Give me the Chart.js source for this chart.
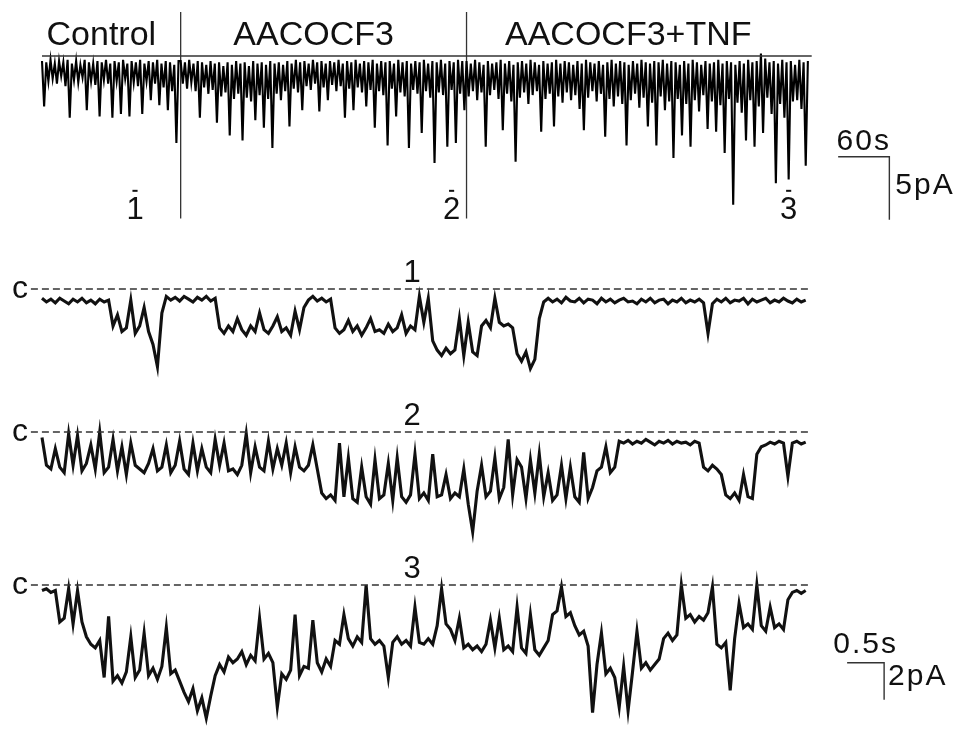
<!DOCTYPE html>
<html>
<head>
<meta charset="utf-8">
<title>AACOCF3 / TNF channel recordings</title>
<script src="https://cdn.jsdelivr.net/npm/chart.js@4.4.1/dist/chart.umd.min.js"></script>
<style>
  html, body { margin: 0; padding: 0; background: #fff; }
  #wrap { position: relative; width: 969px; height: 736px; }
</style>
</head>
<body>
<div id="wrap"><canvas id="traces" width="969" height="736"></canvas></div>
<script>
// ---- data (current in pA) ----
const conditions = ['Control', 'AACOCF3', 'AACOCF3+TNF'];

// slow (compressed) recording, one sample every 2.5 s
const slowDt = 2.5;
const controlTrace = [
  -0.4,-4.0,-0.5,-2.0,-0.3,-1.8,-0.6,-2.2,-0.4,-1.6,
  -0.5,-2.4,-0.3,-4.9,-0.6,-1.9,-0.4,-2.1,-0.7,-1.7,
  -0.3,-4.3,-0.5,-2.0,-0.6,-2.3,-0.4,-4.8,-0.5,-1.9,
  -0.3,-2.2,-0.6,-4.9,-0.4,-2.0,-0.5,-4.6,-0.3,-1.8,
  -0.6,-4.8,-0.4,-2.1,-0.5,-2.4,-0.3,-4.6,-0.6,-2.0,
  -0.4,-3.5,-0.5,-2.2,-0.3,-3.9,-0.6,-2.5,-0.4,-4.3,
  -0.5,-2.8,-0.7,-6.9,-0.4
];
const aacoTrace = [
  -0.4,-2.2,-0.5,-2.6,-0.3,-2.1,-0.6,-2.8,-0.4,-4.9,
  -0.5,-2.5,-0.7,-3.0,-0.4,-2.7,-0.6,-5.3,-0.5,-3.2,
  -0.8,-2.9,-0.5,-6.3,-0.7,-3.4,-0.4,-3.0,-0.6,-6.7,
  -0.5,-3.3,-0.8,-3.6,-0.4,-5.1,-0.6,-3.1,-0.5,-5.7,
  -0.7,-3.4,-0.4,-7.3,-0.6,-3.0,-0.5,-3.5,-0.7,-2.8,
  -0.4,-5.6,-0.6,-2.6,-0.3,-2.9,-0.5,-4.3,-0.4,-2.4,
  -0.6,-2.7,-0.3,-2.2,-0.5,-4.4,-0.4,-2.5,-0.6,-3.5,
  -0.4,-2.3,-0.5,-2.8,-0.3,-2.4,-0.6,-4.9,-0.4,-2.6,
  -0.5,-4.3,-0.3,-2.5,-0.6,-2.9,-0.4,-4.0,-0.5,-2.7,
  -0.3,-5.7,-0.6,-2.8,-0.4,-3.1,-0.5,-7.1,-0.4,-2.6,
  -0.6,-4.8,-0.3,-2.9,-0.5,-3.2,-0.4,-7.3,-0.6,-2.7,
  -0.4,-3.0,-0.5,-6.1,-0.3,-2.8,-0.6,-3.3,-0.4,-8.5,
  -0.5,-2.9,-0.3,-3.1,-0.6,-7.2,-0.4,-2.7,-0.5,-6.9,
  -0.3,-3.0,-0.4,-4.3
];
const tnfTrace = [
  -0.4,-3.2,-0.6,-2.8,-0.3,-3.5,-0.5,-2.9,-0.7,-7.2,
  -0.4,-3.1,-0.6,-2.7,-0.5,-3.4,-0.3,-5.9,-0.6,-3.0,
  -0.4,-3.6,-0.7,-8.4,-0.5,-3.3,-0.4,-2.9,-0.6,-3.8,
  -0.3,-3.1,-0.5,-2.8,-0.7,-6.0,-0.4,-3.4,-0.6,-3.0,
  -0.5,-5.6,-0.3,-3.2,-0.6,-3.7,-0.4,-2.9,-0.5,-3.5,
  -0.7,-3.1,-0.4,-4.2,-0.6,-5.9,-0.3,-3.3,-0.5,-2.8,
  -0.6,-3.6,-0.4,-3.0,-0.7,-6.4,-0.5,-3.4,-0.3,-4.0,
  -0.6,-3.2,-0.4,-3.8,-0.5,-7.1,-0.7,-3.5,-0.4,-3.0,
  -0.6,-4.1,-0.3,-3.3,-0.5,-5.6,-0.6,-3.7,-0.4,-7.1,
  -0.5,-3.2,-0.3,-4.3,-0.6,-3.6,-0.4,-8.1,-0.5,-3.4,
  -0.7,-6.3,-0.4,-3.8,-0.6,-7.2,-0.3,-3.5,-0.5,-4.4,
  -0.7,-3.1,-0.4,-5.8,-0.6,-3.6,-0.5,-6.0,-0.3,-3.9,
  -0.6,-7.7,-0.4,-3.4,-0.5,-11.8,-0.7,-3.7,-0.4,-4.5,
  -0.6,-6.7,-0.3,-3.5,-0.5,-7.2,-0.4,-4.0,0.2,-6.1,
  -0.2,-3.3,-0.5,-4.6,-0.4,-10.1,-0.6,-3.8,-0.3,-4.9,
  -0.5,-9.8,-0.4,-3.6,-0.7,-3.5,-0.3,-4.2,-0.5,-8.7,
  -0.4
];

// expanded sweeps, one sample every 0.06 s, 0 = closed level "c"
const sweepLabels = ['1', '2', '3'];
const sweepTimes = [109, 480, 875];   // s on the slow trace
const fastDt = 0.06;
const sweep1 = [
  -0.5,-0.7,-0.55,-0.75,-0.5,-0.65,-0.8,-0.55,-0.7,-0.5,-0.75,-0.6,-0.8,-0.55,-0.7,-0.6,
  -2.0,-1.4,-2.3,-2.1,-0.6,-2.4,-2.0,-1.0,-2.3,-3.0,-4.2,-1.3,
  -0.4,-0.6,-0.45,-0.65,-0.4,-0.55,-0.7,-0.45,-0.6,-0.4,-0.65,-0.5,
  -2.1,-2.4,-2.0,-2.3,-1.6,-2.2,-2.5,-2.0,-2.3,-1.3,-2.2,-2.4,-2.0,-1.5,-2.3,-2.1,-2.5,-1.2,-2.2,-1.0,
  -0.6,-0.4,-0.65,-0.5,-0.7,-0.55,
  -2.1,-2.4,-2.2,-1.7,-2.3,-2.0,-2.5,-2.1,-1.6,-2.3,-2.2,-2.4,-1.9,-2.3,-2.1,-1.4,-2.4,-2.0,-2.2,-0.4,-1.8,
  -0.5,-2.8,-3.3,-3.6,-3.2,-3.5,-3.3,-1.6,-3.6,-1.8,-3.4,-3.6,
  -2.0,-1.7,-2.1,-0.5,-1.8,-2.0,-1.9,-2.1,
  -3.5,-3.9,-3.4,-4.3,-3.8,
  -1.6,-0.7,
  -0.5,-0.7,-0.55,-0.75,-0.45,-0.65,-0.7,-0.5,-0.75,-0.55,-0.6,-0.8,-0.5,-0.7,-0.55,-0.75,-0.6,-0.5,
  -0.7,-0.65,-0.8,-0.55,-0.7,-0.5,-0.75,-0.6,-0.55,-0.8,-0.6,-0.7,-0.5,-0.75,-0.6,-0.7,-0.55,-0.75,
  -2.4,-0.8,
  -0.55,-0.7,-0.5,-0.75,-0.6,-0.65,-0.5,-0.8,-0.55,-0.7,-0.6,-0.5,-0.75,-0.6,-0.7,-0.5,-0.65,-0.75,-0.55,-0.7,-0.6
];
const sweep2 = [
  -0.3,-1.8,-2.0,-0.9,-1.9,-2.2,-0.1,-1.8,-0.2,-2.1,-1.7,-0.7,-2.0,0.0,-2.2,-1.9,-0.4,-2.1,-0.8,-2.3,
  -0.6,-1.8,-2.0,-2.2,-1.7,-0.9,-2.1,-1.9,-0.7,-2.2,-1.8,-0.5,-2.0,-2.3,-0.6,-2.1,-0.9,-1.9,-2.2,-0.4,
  -1.8,-0.6,-2.1,-2.0,-2.3,-1.8,-0.1,-2.2,-0.8,-1.9,-2.1,-0.5,-2.0,-0.9,-1.8,-0.6,-2.2,-0.8,-1.9,-2.1,
  -1.8,-0.7,-2.0,
  -3.3,-3.6,-3.4,-3.7,-0.6,-3.5,-1.4,-3.6,-3.8,-1.9,-3.5,-3.9,-1.5,-3.6,-3.4,-1.7,-3.7,-1.4,-3.5,-3.8,
  -3.4,-1.2,-3.6,-3.3,-3.7,-1.2,-3.5,-3.4,-2.3,-3.6,-3.3,-3.5,-2.0,-3.9,-5.4,-3.2,-1.8,-3.5,-3.2,-1.4,
  -3.6,-3.0,-0.4,-3.4,-1.5,-1.9,-3.6,-1.5,-3.3,-1.2,-3.5,-2.2,-3.7,-3.4,-1.8,-3.6,-1.9,-3.5,-3.8,-1.1,
  -3.6,-3.0,
  -2.1,-1.9,-0.8,-2.2,-1.9,
  -0.5,-0.6,-0.45,-0.65,-0.5,-0.6,-0.4,-0.55,-0.7,-0.5,-0.6,-0.45,-0.65,-0.5,-0.6,-0.55,-0.7,-0.5,-0.6,
  -1.9,-2.1,-1.8,-2.0,-2.3,
  -3.4,-3.6,-3.3,-3.7,-2.3,-3.5,-3.6,
  -1.2,-0.8,-0.7,-0.55,-0.65,-0.5,-0.6,-2.4,-0.6,-0.5,-0.65,-0.55
];
const sweep3 = [
  -0.3,-0.2,-0.4,-0.3,
  -2.0,-1.8,-0.2,-2.1,-0.3,-2.0,
  -2.8,-3.2,-3.4,-3.0,
  -5.0,-1.7,-5.2,-4.9,-5.3,
  -4.7,-2.8,-5.0,-4.6,-2.6,-4.9,-4.5,-5.1,
  -4.4,-2.3,-4.8,-4.6,
  -5.2,-5.8,-6.3,-5.6,-6.8,-6.1,-7.2,
  -6.0,-4.9,-4.3,-4.7,-3.9,-4.2,
  -4.0,-3.6,-4.3,-3.8,-4.1,-1.8,-4.0,-3.7,
  -4.2,-6.6,-4.8,-5.1,-4.6,-1.6,-4.9,-4.4,
  -4.5,-1.9,-4.2,-4.7,-4.0,-4.4,
  -3.0,-3.2,-1.6,-2.9,-3.3,-2.8,-3.1,0.0,
  -2.9,-3.2,-3.0,-3.3,-5.0,-3.1,-2.8,-3.2,
  -3.0,-3.3,-1.2,-3.1,-3.2,
  -2.9,-3.2,-2.2,-0.2,
  -2.1,-2.4,
  -3.0,-1.8,-3.4,-3.2,-3.5,-3.3,-3.6,-3.2,-1.9,-3.4,-1.8,-3.5,-3.3,-3.6,-1.2,-3.4,-3.7,-1.6,-3.5,-3.8,-3.4,-3.0,
  -1.6,-1.4,-0.1,-1.7,-1.5,
  -2.2,-2.7,-2.5,-3.3,
  -6.9,-4.3,-2.6,-4.8,-4.5,-5.0,-6.6,-4.4,-6.8,-4.7,
  -2.5,-4.5,-4.2,-4.6,-4.3,-4.0,
  -2.9,-2.6,-3.0,-2.7,
  0.0,-1.8,-1.6,-2.0,-1.7,-1.9,-1.5,-0.1,
  -3.2,-3.4,-3.1,-5.7,
  -2.9,-1.0,-2.3,-2.1,-2.4,0.0,-2.2,-2.5,-1.2,-2.3,-2.1,-2.4,-0.8,
  -0.4,-0.3,-0.45,-0.3
];
const sweeps = [sweep1, sweep2, sweep3];

// calibration bars
const slowBarTime = 60, slowBarAmp = 5;     // s, pA
const fastBarTime = 0.5, fastBarAmp = 2;    // s, pA

// ---- layout (pixels) ----
const W = 969, H = 736;
const plotLeft = 42;
const slowPxPerS = 768 / 900, slowPxPerPA = 12.6;
const fastPxPerS = 74, fastPxPerPA = 18.5;
const slowZeroPx = 56;
const closedPx = [289, 432, 585];

function xAxis(pxPerUnit) {
  return { type: 'linear', display: false, bounds: 'data',
    min: -plotLeft / pxPerUnit, max: (W - plotLeft) / pxPerUnit };
}
function yAxis(zeroPx, pxPerUnit) {
  return { type: 'linear', display: false, bounds: 'data',
    min: -(H - zeroPx) / pxPerUnit, max: zeroPx / pxPerUnit };
}

const tCtrl = controlTrace.length * slowDt;
const tAaco = tCtrl + aacoTrace.length * slowDt;
const slowTrace = controlTrace.concat(aacoTrace, tnfTrace);
const tEnd = slowTrace.length * slowDt;
const markLevel = -10.7;     // pA, level of the little sweep marks
const sweepEnd = 10.38;

const toPts = (arr, dt) => arr.map((v, i) => ({ x: i * dt, y: v }));

function line(data, xAxisID, yAxisID, extra) {
  return Object.assign({
    type: 'line', data, xAxisID, yAxisID,
    borderColor: '#111', borderWidth: 1, pointRadius: 0,
    fill: false, tension: 0, borderJoinStyle: 'miter'
  }, extra || {});
}

const datasets = [];
// slow trace, its zero line and the solution-change markers
datasets.push(line([{ x: 0, y: 0 }, { x: tEnd + 2, y: 0 }], 'xSlow', 'ySlow', { borderColor: '#333', borderWidth: 1.4 }));
datasets.push(line(toPts(slowTrace, slowDt), 'xSlow', 'ySlow', { borderColor: '#000', borderWidth: 2.1 }));
[tCtrl, tAaco].forEach(t => {
  datasets.push(line([{ x: t, y: 3.5 }, { x: t, y: -12.9 }], 'xSlow', 'ySlow', { borderColor: '#333', borderWidth: 1.3 }));
});
sweepTimes.forEach(t => {
  datasets.push(line([{ x: t - 3, y: markLevel }, { x: t + 3, y: markLevel }], 'xSlow', 'ySlow', { borderWidth: 2 }));
});
// slow calibration bar
const slowBarT0 = 933, slowBarY0 = -8.0;
datasets.push(line([
  { x: slowBarT0, y: slowBarY0 },
  { x: slowBarT0 + slowBarTime, y: slowBarY0 },
  { x: slowBarT0 + slowBarTime, y: slowBarY0 - slowBarAmp }
], 'xSlow', 'ySlow', { borderColor: '#333', borderWidth: 1.4 }));

// expanded sweeps with dashed closed level
sweeps.forEach((sw, k) => {
  const yId = 'yFast' + k;
  datasets.push(line([{ x: -0.15, y: 0 }, { x: sweepEnd, y: 0 }], 'xFast', yId,
    { borderColor: '#333', borderWidth: 1.4, borderDash: [7, 4] }));
  datasets.push(line(toPts(sw, fastDt), 'xFast', yId, { borderWidth: 3.1 }));
});
// fast calibration bar
const fastBarT0 = 10.88, fastBarY0 = -4.2;
datasets.push(line([
  { x: fastBarT0, y: fastBarY0 },
  { x: fastBarT0 + fastBarTime, y: fastBarY0 },
  { x: fastBarT0 + fastBarTime, y: fastBarY0 - fastBarAmp }
], 'xFast', 'yFast2', { borderColor: '#333', borderWidth: 1.4 }));

const font = px => px + 'px "Liberation Sans", Arial, Helvetica, sans-serif';

const figureText = {
  id: 'figureText',
  afterDraw(chart) {
    const ctx = chart.ctx, s = chart.scales;
    ctx.save();
    ctx.fillStyle = '#111';
    ctx.textBaseline = 'alphabetic';
    ctx.textAlign = 'center';

    // condition names over their stretch of the slow trace
    ctx.font = font(34);
    const edges = [0, tCtrl, tAaco, tEnd];
    const zeroY = s.ySlow.getPixelForValue(0);
    conditions.forEach((name, k) => {
      const mid = s.xSlow.getPixelForValue((edges[k] + edges[k + 1]) / 2);
      ctx.fillText(name, mid - 10, zeroY - 11);
    });

    // sweep numbers under the slow trace
    ctx.font = font(31);
    sweepLabels.forEach((lab, k) => {
      ctx.fillText(lab, s.xSlow.getPixelForValue(sweepTimes[k]), s.ySlow.getPixelForValue(markLevel) + 28);
    });

    // sweep numbers and closed level "c" on the expanded sweeps
    sweepLabels.forEach((lab, k) => {
      const cy = s['yFast' + k].getPixelForValue(0);
      ctx.font = font(31);
      ctx.textAlign = 'center';
      ctx.fillText(lab, s.xFast.getPixelForValue(5.0), cy - 7);
      ctx.font = font(32);
      ctx.fillText('c', 20, cy + 9);
    });

    // calibration labels
    ctx.font = font(30);
    ctx.letterSpacing = '2px';
    const sx0 = s.xSlow.getPixelForValue(slowBarT0), sx1 = s.xSlow.getPixelForValue(slowBarT0 + slowBarTime);
    const sy0 = s.ySlow.getPixelForValue(slowBarY0), sy1 = s.ySlow.getPixelForValue(slowBarY0 - slowBarAmp);
    ctx.textAlign = 'center';
    ctx.fillText(slowBarTime + 's', (sx0 + sx1) / 2, sy0 - 7);
    ctx.textAlign = 'left';
    ctx.fillText(slowBarAmp + 'pA', sx1 + 6, (sy0 + sy1) / 2 + 6);

    const fx0 = s.xFast.getPixelForValue(fastBarT0), fx1 = s.xFast.getPixelForValue(fastBarT0 + fastBarTime);
    const fy0 = s.yFast2.getPixelForValue(fastBarY0), fy1 = s.yFast2.getPixelForValue(fastBarY0 - fastBarAmp);
    ctx.textAlign = 'center';
    ctx.fillText(fastBarTime + 's', (fx0 + fx1) / 2, fy0 - 10);
    ctx.textAlign = 'left';
    ctx.fillText(fastBarAmp + 'pA', fx1 + 4, (fy0 + fy1) / 2 + 4);
    ctx.restore();
  }
};

new Chart(document.getElementById('traces'), {
  type: 'line',
  data: { datasets },
  options: {
    responsive: false,
    devicePixelRatio: 1,
    animation: false,
    layout: { padding: 0 },
    plugins: { legend: { display: false }, tooltip: { enabled: false } },
    events: [],
    scales: {
      xSlow: xAxis(slowPxPerS),
      ySlow: yAxis(slowZeroPx, slowPxPerPA),
      xFast: xAxis(fastPxPerS),
      yFast0: yAxis(closedPx[0], fastPxPerPA),
      yFast1: yAxis(closedPx[1], fastPxPerPA),
      yFast2: yAxis(closedPx[2], fastPxPerPA)
    }
  },
  plugins: [figureText]
});
</script>
</body>
</html>
